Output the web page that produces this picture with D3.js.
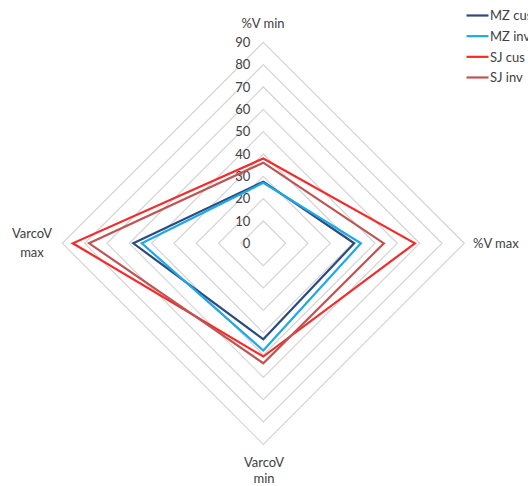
<!DOCTYPE html>
<html>
<head>
<meta charset="utf-8">
<script src="https://cdn.jsdelivr.net/npm/d3@7"></script>
<style>
  html, body { margin: 0; padding: 0; background: #fff; }
  text { font-family: Lato, "Open Sans", "Liberation Sans", sans-serif; fill: #404040; }
</style>
</head>
<body>
<svg id="chart" width="528" height="486"></svg>
<script>
// ---- data ----
const axes = ["%V min", "%V max", "VarcoV min", "VarcoV max"];
const seriesNames = ["MZ cus", "MZ inv", "SJ cus", "SJ inv"];
const mzCus = [27.6, 40.7, 43.0, 58.2];
const mzInv = [27.1, 43.7, 48.0, 54.4];
const sjCus = [38.0, 67.9, 50.7, 85.3];
const sjInv = [36.1, 54.0, 53.7, 78.0];
const tickValues = [0, 10, 20, 30, 40, 50, 60, 70, 80, 90];
const seriesColors = ["#2B4A80", "#1FA8E4", "#F52A2A", "#BE5553"];

const seriesData = [mzCus, mzInv, sjCus, sjInv];

const svg = d3.select("#chart");
const cx = 263.3, cy = 243.3;
const r = d3.scaleLinear().domain([0, 90]).range([0, 201]);
const angle = d3.scaleLinear().domain([0, axes.length]).range([0, 2 * Math.PI]);

const g = svg.append("g").attr("transform", `translate(${cx},${cy})`);

// grid rings
const ring = d3.lineRadial().curve(d3.curveLinearClosed);
g.selectAll("path.grid")
  .data(tickValues.filter(v => v > 0))
  .join("path")
  .attr("class", "grid")
  .attr("d", v => ring(axes.map((a, i) => [angle(i), r(v)])))
  .attr("fill", "none")
  .attr("stroke", "#D4D4D4")
  .attr("stroke-width", 1.2);

// tick labels
g.selectAll("text.tick")
  .data(tickValues)
  .join("text")
  .attr("class", "tick")
  .attr("x", -13)
  .attr("y", v => -r(v))
  .attr("dy", "0.36em")
  .attr("text-anchor", "end")
  .style("font-size", "13px")
  .text(v => v);

// series
const line = d3.lineRadial()
  .angle((d, i) => angle(i))
  .radius(d => r(d))
  .curve(d3.curveLinearClosed);

g.selectAll("path.series")
  .data(seriesData)
  .join("path")
  .attr("class", "series")
  .attr("d", d => line(d))
  .attr("fill", "none")
  .attr("stroke", (d, i) => seriesColors[i])
  .attr("stroke-width", 2.2)
  .attr("stroke-linejoin", "miter");

// axis labels
svg.append("text").attr("x", 263).attr("y", 28).attr("text-anchor", "middle")
  .style("font-size", "13px").text(axes[0]);
svg.append("text").attr("x", 473).attr("y", 248).attr("text-anchor", "start")
  .style("font-size", "13px").text(axes[1]);
const bl = svg.append("text").attr("text-anchor", "middle").style("font-size", "13px");
bl.append("tspan").attr("x", 264).attr("y", 467).text("VarcoV");
bl.append("tspan").attr("x", 264).attr("y", 483).text("min");
const ll = svg.append("text").attr("text-anchor", "middle").style("font-size", "13px");
ll.append("tspan").attr("x", 32).attr("y", 238).text("VarcoV");
ll.append("tspan").attr("x", 32).attr("y", 257).text("max");

// legend
const lg = svg.append("g");
const ly = d3.scaleLinear().domain([0, 3]).range([15.5, 77.5]);
seriesNames.forEach((name, i) => {
  lg.append("line")
    .attr("x1", 466.5).attr("x2", 488.5)
    .attr("y1", ly(i)).attr("y2", ly(i))
    .attr("stroke", seriesColors[i]).attr("stroke-width", 2.2);
  lg.append("text")
    .attr("x", 490).attr("y", ly(i)).attr("dy", "0.36em")
    .style("font-size", "13px").text(name);
});
</script>
</body>
</html>
